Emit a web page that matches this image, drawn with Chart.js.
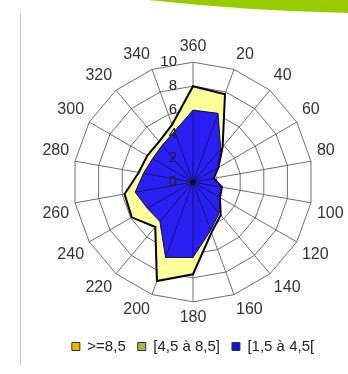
<!DOCTYPE html>
<html>
<head>
<meta charset="utf-8">
<script src="https://cdn.jsdelivr.net/npm/chart.js@4.4.1/dist/chart.umd.min.js"></script>
<style>
    body { margin: 0; background: #fff; }
    .frame { position: relative; width: 348px; height: 374px; overflow: hidden; }
    .swoosh { position: absolute; left: 0; top: 0; }
    .edge { position: absolute; left: 20px; top: 13px; width: 1px; height: 352px; background: #c8c8c8; }
    .chart-box { position: absolute; left: 0; top: 0; width: 348px; height: 374px; }
</style>
</head>
<body>
<div class="frame">
    <svg class="swoosh" width="348" height="20">
        <path d="M148,0 Q250,11 348,13 L348,0 Z" fill="#99cc00"/>
    </svg>
    <div class="edge"></div>
    <div class="chart-box"><canvas id="roseChart"></canvas></div>
</div>
<script>
// wind directions (degrees), 360 at the top
const directions = ['360', '20', '40', '60', '80', '100', '120', '140', '160',
    '180', '200', '220', '240', '260', '280', '300', '320', '340'];

// cumulated frequencies per speed class
const over85 = [0, 0, 0, 0, 0, 0, 0, 0, 0, 0, 0, 0, 0, 0, 0, 0, 0, 0];
const from45to85 = [8.0, 7.8, 3.85, 2.45, 1.75, 2.45, 2.6, 3.6, 4.5,
    7.7, 8.8, 4.9, 5.9, 5.8, 4.6, 4.4, 4.4, 5.1];
const from15to45 = [6.0, 6.1, 3.6, 2.4, 1.7, 2.4, 2.55, 3.4, 4.3,
    6.3, 6.7, 4.3, 4.4, 4.9, 4.2, 3.9, 4.0, 4.5];

const seriesNames = ['>=8,5', '[4,5 à 8,5]', '[1,5 à 4,5['];
const scaleTicks = [0, 2, 4, 6, 8, 10];

const legendColors = ['#f2b800', '#8cc63f', '#1010ee'];

// spokes inside the blue area + tick labels on the left of the axis
const overlayPlugin = {
    id: 'overlay',
    afterDatasetsDraw(chart) {
        const ctx = chart.ctx;
        const r = chart.scales.r;
        const meta = chart.getDatasetMeta(2);
        ctx.save();
        ctx.strokeStyle = '#10104a';
        ctx.lineWidth = 0.8;
        meta.data.forEach(pt => {
            ctx.beginPath();
            ctx.moveTo(r.xCenter, r.yCenter);
            ctx.lineTo(pt.x, pt.y);
            ctx.stroke();
        });
        ctx.fillStyle = '#111';
        ctx.beginPath();
        ctx.arc(r.xCenter, r.yCenter, 2.5, 0, Math.PI * 2);
        ctx.fill();

        ctx.font = '15px "Liberation Sans", Arial, sans-serif';
        ctx.fillStyle = '#222';
        ctx.textAlign = 'right';
        ctx.textBaseline = 'middle';
        scaleTicks.forEach(v => {
            const d = r.getDistanceFromCenterForValue(v);
            ctx.fillText(String(v), r.xCenter - 16, r.yCenter - d);
        });
        ctx.restore();
    }
};

document.addEventListener('DOMContentLoaded', function() {
    const canvas = document.getElementById('roseChart');
    const ctx = canvas.getContext('2d');

    canvas.chart = new Chart(ctx, {
        type: 'radar',
        data: {
            labels: directions,
            datasets: [{
                label: seriesNames[0],
                data: over85,
                backgroundColor: legendColors[0],
                borderColor: '#000',
                borderWidth: 1,
                order: 0
            }, {
                label: seriesNames[1],
                data: from45to85,
                backgroundColor: '#ffff99',
                borderColor: '#000',
                borderWidth: 2,
                fill: true,
                order: 2
            }, {
                label: seriesNames[2],
                data: from15to45,
                backgroundColor: '#2a1ff2',
                borderColor: '#0a0a60',
                borderWidth: 1,
                fill: true,
                order: 1
            }]
        },
        options: {
            responsive: true,
            maintainAspectRatio: false,
            animation: false,
            layout: {
                padding: { top: 37, left: 38, right: 0, bottom: 10 }
            },
            elements: {
                line: { tension: 0 },
                point: { radius: 0, hoverRadius: 0 }
            },
            scales: {
                r: {
                    min: 0,
                    max: 10,
                    ticks: { stepSize: 2, display: false },
                    grid: { color: '#6e6e6e', lineWidth: 1 },
                    angleLines: { color: '#6e6e6e', lineWidth: 1 },
                    pointLabels: {
                        color: '#333',
                        padding: 6,
                        font: { family: '"Liberation Sans", Arial, sans-serif', size: 16 }
                    }
                }
            },
            plugins: {
                legend: {
                    position: 'bottom',
                    labels: {
                        boxWidth: 8,
                        boxHeight: 8,
                        padding: 12,
                        color: '#222',
                        font: { family: '"Liberation Sans", Arial, sans-serif', size: 15 },
                        sort: (a, b) => a.datasetIndex - b.datasetIndex,
                        generateLabels: function(chart) {
                            const items = Chart.defaults.plugins.legend.labels.generateLabels(chart);
                            items.forEach(item => {
                                item.fillStyle = legendColors[item.datasetIndex];
                                item.strokeStyle = '#333';
                                item.lineWidth = 1;
                            });
                            return items;
                        }
                    }
                },
                tooltip: { enabled: false }
            }
        },
        plugins: [overlayPlugin]
    });
});
</script>
</body>
</html>
